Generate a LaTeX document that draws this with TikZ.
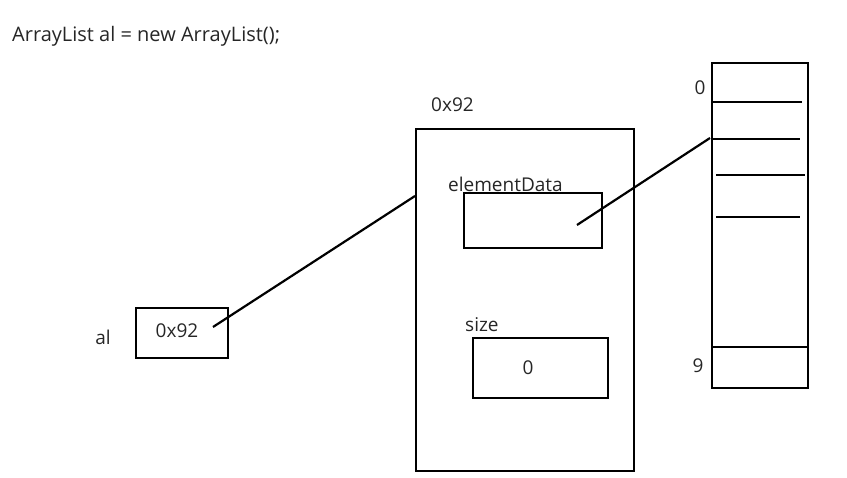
\documentclass[tikz,border=0pt]{standalone}
\usepackage{fontspec}
\setmainfont{Open Sans}
\begin{document}
\begin{tikzpicture}[x=1pt,y=-1pt,
  box/.style={draw,line width=2.2pt,inner sep=0pt,anchor=north west},
  txt/.style={font=\fontsize{19}{22}\selectfont,text=black!85,inner sep=0pt},
  ln/.style={line width=2.2pt}]
\useasboundingbox (0,0) rectangle (847,478);
\node[txt,anchor=west,font=\fontsize{20}{24}\selectfont] (title) at (12,36) {ArrayList al = new ArrayList();};
% array
\node[box,minimum width=96pt,minimum height=325pt] (arr) at (711,62) {};
\draw[ln] (713,102) coordinate (r1a) -- (802,102) coordinate (r1b);
\draw[ln] (713,139) coordinate (r2a) -- (800,139) coordinate (r2b);
\draw[ln] (716,175) coordinate (r3a) -- (805,175) coordinate (r3b);
\draw[ln] (716,217) coordinate (r4a) -- (800,217) coordinate (r4b);
\draw[ln] (711,347) coordinate (r5a) -- (807,347) coordinate (r5b);
\node[txt] (i0) at (700,88) {0};
\node[txt] (i9) at (698,366) {9};
% object
\node[box,minimum width=218pt,minimum height=342pt] (obj) at (415,128) {};
\node[txt,anchor=west] (addr) at (431,105) {0x92};
\node[box,minimum width=138pt,minimum height=55pt] (ed) at (463,192) {};
\node[txt,anchor=west] (edl) at (448,184) {elementData};
\node[box,minimum width=135pt,minimum height=60pt] (sz) at (472,337) {};
\node[txt,anchor=west] (szl) at (465,325) {size};
\node[txt] (szv) at (528,368) {0};
% reference variable
\node[box,minimum width=92pt,minimum height=50pt] (al) at (135,307) {};
\node[txt] (alv) at (177,331) {0x92};
\node[txt] (alname) at (103,337) {al};
% connectors
\coordinate (p1) at (213,327);
\coordinate (p2) at (415,196);
\coordinate (p3) at (577,225);
\coordinate (p4) at (710,138);
\draw[ln] (p1) -- (p2);
\draw[ln] (p3) -- (p4);
\end{tikzpicture}
\end{document}
